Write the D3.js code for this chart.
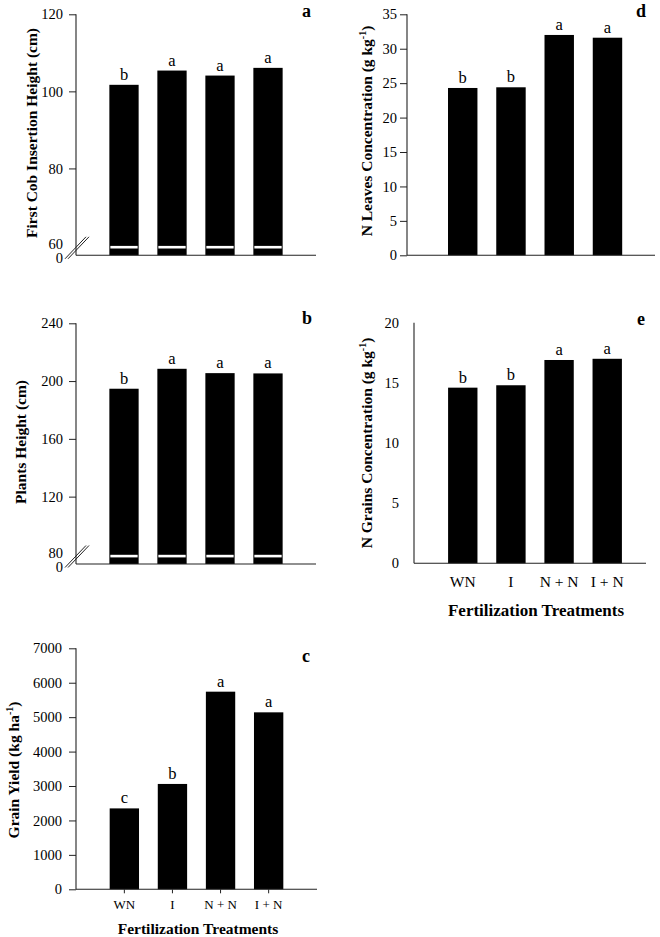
<!DOCTYPE html>
<html><head><meta charset="utf-8">
<script src="https://cdn.jsdelivr.net/npm/d3@7/dist/d3.min.js"></script>
<style>
body{margin:0;background:#fff;}
svg{display:block;font-family:"Liberation Serif","Times New Roman",serif;}
</style></head>
<body>
<script>
// ---------- data ----------
const treatments = ["WN", "I", "N + N", "I + N"];

const cobHeight   = [101.7, 105.4, 104.1, 106.1];
const cobLetters  = ["b", "a", "a", "a"];
const cobTicks    = [80, 100, 120];

const plantHeight = [194.7, 208.5, 205.5, 205.3];
const plantLetters= ["b", "a", "a", "a"];
const plantTicks  = [120, 160, 200, 240];

const grainYield  = [2350, 3060, 5740, 5140];
const yieldLetters= ["c", "b", "a", "a"];
const yieldTicks  = [0, 1000, 2000, 3000, 4000, 5000, 6000, 7000];

const nLeaves     = [24.3, 24.4, 32.0, 31.6];
const leavesLetters = ["b", "b", "a", "a"];
const leavesTicks = [0, 5, 10, 15, 20, 25, 30, 35];

const nGrains     = [14.6, 14.8, 16.9, 17.0];
const grainsLetters = ["b", "b", "a", "a"];
const grainsTicks = [0, 5, 10, 15, 20];

// ---------- layout ----------
const svg = d3.select("body").append("svg").attr("width", 660).attr("height", 937);
const SERIF = '"Liberation Serif","Times New Roman",serif';
const TICKFONT = 14.5;

function drawPanel(cfg) {
  const g = svg.append("g");
  const x = d3.scaleBand().domain(treatments).range(cfg.band)
    .paddingInner(0.39).paddingOuter(0.195);
  const lo = cfg.broken ? cfg.breakVal : 0;
  const y = d3.scaleLinear().domain([lo, cfg.max])
    .range([cfg.broken ? cfg.yBreak : cfg.yBase, cfg.yTop]);

  // bars
  g.selectAll("rect.bar").data(cfg.values).enter().append("rect")
    .attr("class", "bar")
    .attr("x", (d, i) => x(treatments[i]))
    .attr("width", x.bandwidth())
    .attr("y", d => y(d))
    .attr("height", d => cfg.yBase - y(d))
    .attr("fill", "#000");

  if (cfg.broken) {
    g.selectAll("rect.gap").data(cfg.values).enter().append("rect")
      .attr("x", (d, i) => x(treatments[i]) + 1)
      .attr("width", x.bandwidth() - 2)
      .attr("y", cfg.yBreak + 0.4)
      .attr("height", 2.6)
      .attr("fill", "#fff");
  }

  // letters
  g.selectAll("text.let").data(cfg.values).enter().append("text")
    .attr("x", (d, i) => x(treatments[i]) + x.bandwidth() / 2)
    .attr("y", d => y(d) - 5)
    .attr("text-anchor", "middle")
    .attr("font-size", 16.5)
    .attr("font-family", SERIF)
    .text((d, i) => cfg.letters[i]);

  // y axis
  const ax = g.append("g").attr("transform", `translate(${cfg.x0},0)`)
    .call(d3.axisLeft(y).tickValues(cfg.ticks).tickSize(cfg.tickSize).tickPadding(cfg.tickPad)
      .tickFormat(d3.format("d")));
  ax.select(".domain").remove();
  ax.selectAll("text").attr("font-size", TICKFONT).attr("font-family", SERIF).attr("fill", "#000");
  ax.selectAll("line").attr("stroke", "#222");
  g.append("line").attr("x1", cfg.x0).attr("x2", cfg.x0)
    .attr("y1", cfg.yTop).attr("y2", cfg.yBase).attr("stroke", "#222").attr("stroke-width", 1.1);

  if (cfg.broken) {
    const lx = cfg.x0 - 13;
    g.append("text").attr("x", lx).attr("y", cfg.yBreak - 1).attr("dy", "0.32em")
      .attr("text-anchor", "end").attr("font-size", TICKFONT).attr("font-family", SERIF)
      .text(cfg.breakVal);
    g.append("text").attr("x", lx).attr("y", cfg.yBase + 3).attr("dy", "0.32em")
      .attr("text-anchor", "end").attr("font-size", TICKFONT).attr("font-family", SERIF)
      .text("0");
    [0, 3].forEach(off => {
      g.append("line")
        .attr("x1", cfg.x0 - 11 + off).attr("y1", cfg.yBase + 3.5)
        .attr("x2", cfg.x0 + 10 + off).attr("y2", cfg.yBase - 18.5)
        .attr("stroke", "#222").attr("stroke-width", 1);
    });
  }

  // x axis
  g.append("line").attr("x1", cfg.x0).attr("x2", cfg.x1)
    .attr("y1", cfg.yBase).attr("y2", cfg.yBase).attr("stroke", "#222").attr("stroke-width", 1.1);
  if (cfg.xLabels) {
    const xa = g.append("g").attr("transform", `translate(0,${cfg.yBase})`)
      .call(d3.axisBottom(x).tickSize(cfg.xTick).tickPadding(cfg.xPad));
    xa.select(".domain").remove();
    xa.selectAll("line").attr("stroke", "#222");
    xa.selectAll("text").attr("font-size", cfg.xFont).attr("font-family", SERIF).attr("fill", "#000");
    g.append("text").attr("x", cfg.xTitleX).attr("y", cfg.xTitleY)
      .attr("text-anchor", "middle").attr("font-weight", "bold")
      .attr("font-size", cfg.xTitleFont).attr("font-family", SERIF)
      .text("Fertilization Treatments");
  }

  // y title
  const t = g.append("text")
    .attr("transform", `translate(${cfg.titleX},${cfg.titleY}) rotate(-90)`)
    .attr("text-anchor", "middle").attr("font-weight", "bold")
    .attr("font-size", 15.5).attr("font-family", SERIF);
  if (cfg.sup) {
    t.append("tspan").text(cfg.title);
    t.append("tspan").attr("font-size", 10).attr("dy", -6).text("-1");
    t.append("tspan").attr("dy", 6).text(")");
  } else {
    t.text(cfg.title);
  }

  // panel letter
  g.append("text").attr("x", cfg.labX).attr("y", cfg.labY)
    .attr("font-weight", "bold").attr("font-size", 18).attr("font-family", SERIF)
    .text(cfg.label);
}

drawPanel({values: cobHeight, letters: cobLetters, ticks: cobTicks, max: 120,
  broken: true, breakVal: 60, yTop: 14.3, yBreak: 245.5, yBase: 255.3,
  x0: 76, x1: 316, band: [100, 292], tickSize: 7, tickPad: 6,
  title: "First Cob Insertion Height (cm)", titleX: 37, titleY: 133,
  label: "a", labX: 302, labY: 17});

drawPanel({values: plantHeight, letters: plantLetters, ticks: plantTicks, max: 240,
  broken: true, breakVal: 80, yTop: 323.3, yBreak: 554.4, yBase: 564,
  x0: 76, x1: 316, band: [100, 292], tickSize: 7, tickPad: 6,
  title: "Plants Height (cm)", titleX: 26, titleY: 442,
  label: "b", labX: 302, labY: 324});

drawPanel({values: grainYield, letters: yieldLetters, ticks: yieldTicks, max: 7000,
  broken: false, yTop: 648.3, yBase: 889.3,
  x0: 76, x1: 317, band: [100.3, 292.7], tickSize: 7, tickPad: 7,
  xLabels: true, xTick: 4, xPad: 6, xFont: 13, xTitleX: 198, xTitleY: 934, xTitleFont: 15.5,
  title: "Grain Yield (kg ha", sup: true, titleX: 19, titleY: 770,
  label: "c", labX: 302, labY: 662});

drawPanel({values: nLeaves, letters: leavesLetters, ticks: leavesTicks, max: 35,
  broken: false, yTop: 14.3, yBase: 255.3,
  x0: 407, x1: 655, band: [438.6, 631.6], tickSize: 7, tickPad: 3,
  title: "N Leaves Concentration (g kg", sup: true, titleX: 372, titleY: 131,
  label: "d", labX: 636, labY: 17});

drawPanel({values: nGrains, letters: grainsLetters, ticks: grainsTicks, max: 20,
  broken: false, yTop: 322.7, yBase: 563.3,
  x0: 414, x1: 646, band: [438.7, 631.3], tickSize: 0, tickPad: 15,
  xLabels: true, xTick: 0, xPad: 13, xFont: 15.5, xTitleX: 536, xTitleY: 616, xTitleFont: 17,
  title: "N Grains Concentration (g kg", sup: true, titleX: 372, titleY: 443,
  label: "e", labX: 637, labY: 325});
</script>
</body></html>
